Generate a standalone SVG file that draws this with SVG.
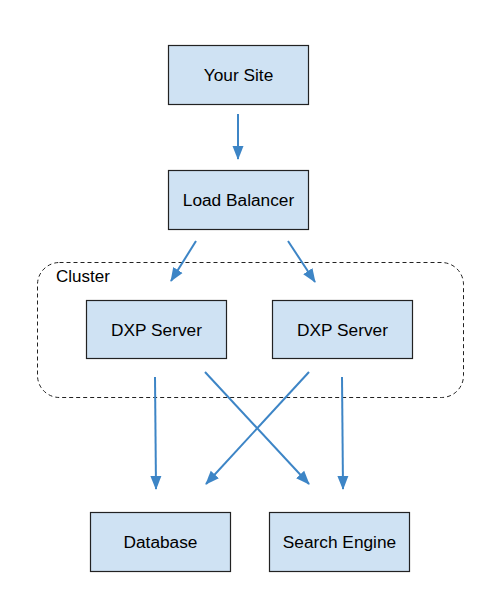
<svg xmlns="http://www.w3.org/2000/svg" width="504" height="600" viewBox="0 0 504 600">
<style>
.box{fill:#cfe2f3;stroke:#222;stroke-width:1.2}
.lbl{font-family:"Liberation Sans",Arial,sans-serif;font-size:17.3px;fill:#000;text-anchor:middle;dominant-baseline:central}
.conn{stroke:#3d85c6;stroke-width:2;fill:none;marker-end:url(#ah)}
</style>
<defs>
<marker id="ah" markerWidth="14" markerHeight="12" viewBox="0 0 14 12" refX="13" refY="6" orient="auto" markerUnits="userSpaceOnUse">
<path d="M0,0.5 L14,6 L0,11.5 z" fill="#3d85c6"/>
</marker>
</defs>
<rect x="0" y="0" width="504" height="600" fill="#fff"/>
<g id="cluster">
<rect x="37.5" y="262.5" width="426" height="135" rx="22" fill="none" stroke="#222" stroke-width="1" stroke-dasharray="4,3"/>
<text x="56" y="276" font-family="Liberation Sans,Arial,sans-serif" font-size="17" dominant-baseline="central">Cluster</text>
</g>
<g id="your-site"><rect class="box" x="168.5" y="45.5" width="140" height="59"/><text class="lbl" x="238.5" y="75">Your Site</text></g>
<g id="load-balancer"><rect class="box" x="168.5" y="170.5" width="140" height="59"/><text class="lbl" x="238.5" y="200">Load Balancer</text></g>
<g id="dxp1"><rect class="box" x="86.5" y="300.5" width="140" height="58"/><text class="lbl" x="156.5" y="330">DXP Server</text></g>
<g id="dxp2"><rect class="box" x="272.5" y="300.5" width="140" height="58"/><text class="lbl" x="342.5" y="330">DXP Server</text></g>
<g id="database"><rect class="box" x="90.5" y="512.5" width="140" height="59"/><text class="lbl" x="160.5" y="542">Database</text></g>
<g id="search-engine"><rect class="box" x="269.5" y="512.5" width="140" height="59"/><text class="lbl" x="339.5" y="542">Search Engine</text></g>
<g id="connectors">
<line class="conn" x1="238" y1="114" x2="238" y2="159"/>
<line class="conn" x1="196" y1="241" x2="171" y2="281"/>
<line class="conn" x1="288" y1="241" x2="315" y2="282"/>
<line class="conn" x1="155" y1="377" x2="156" y2="489"/>
<line class="conn" x1="205" y1="372" x2="309" y2="484"/>
<line class="conn" x1="309" y1="372" x2="206" y2="484"/>
<line class="conn" x1="342" y1="377" x2="343" y2="489"/>
</g>
</svg>
